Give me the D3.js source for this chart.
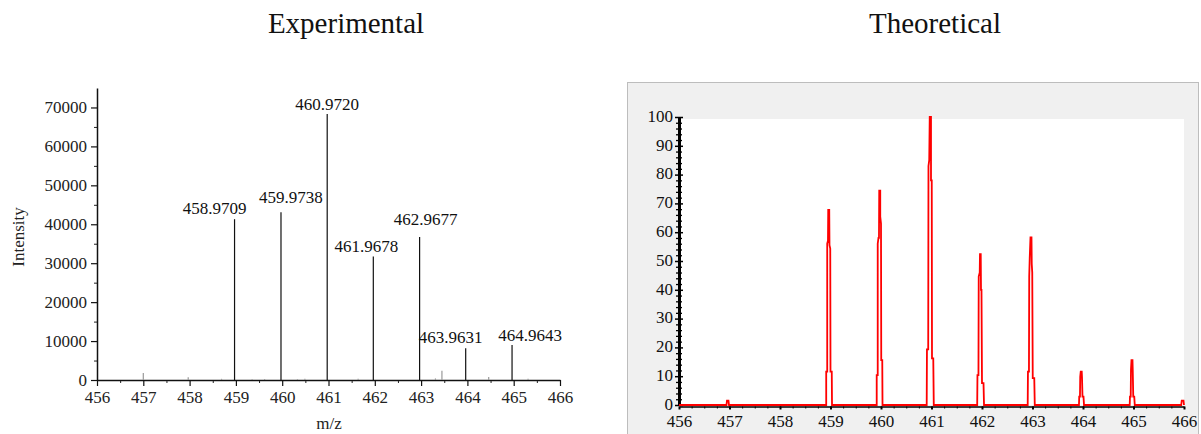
<!DOCTYPE html>
<html>
<head>
<meta charset="utf-8">
<script src="https://cdn.jsdelivr.net/npm/d3@7"></script>
<style>
	body { margin: 0; background: #fff; }
	svg { display: block; }
</style>
</head>
<body>
<svg id="chart" width="1201" height="434"></svg>
<script>
// Experimental spectrum: labelled peaks
const peakMz = [458.9709, 459.9738, 460.9720, 461.9678, 462.9677, 463.9631, 464.9643];
const peakIntensity = [41300, 43100, 68300, 31700, 36700, 8150, 9000];
// Experimental spectrum: small unlabelled sticks
const minorMz = [457.00, 457.97, 458.69, 459.35, 459.62, 460.33, 460.49, 461.64, 463.31, 463.45, 464.46, 465.31];
const minorIntensity = [1800, 700, 300, 200, 250, 200, 300, 300, 400, 2400, 800, 300];
// label placement (px) relative to stick top
const labelDx = [-20, 10, 0, -7, 6, -15, 18];
const labelGap = [5, 9, 4, 5, 12, 5, 4];

const mzTicks = [456, 457, 458, 459, 460, 461, 462, 463, 464, 465, 466];
const expIntensityTicks = [0, 10000, 20000, 30000, 40000, 50000, 60000, 70000];
const theoTicks = [0, 10, 20, 30, 40, 50, 60, 70, 80, 90, 100];

// Theoretical isotope profile, [m/z, relative abundance]
const theo457 = [[456.94, 0], [456.95, 1.5], [456.98, 1.5], [456.99, 0]];
const theo459 = [[458.915, 0], [458.915, 11.6], [458.935, 11.6], [458.935, 56], [458.950, 57], [458.955, 67.7], [458.975, 67.7], [458.980, 55.5], [458.995, 54.3], [459.000, 11.6], [459.025, 11.6], [459.030, 0]];
const theo460 = [[459.915, 0], [459.915, 10.4], [459.935, 10.4], [459.935, 56], [459.950, 58], [459.960, 58], [459.965, 74.4], [459.985, 74.4], [459.985, 65.4], [460.000, 63], [460.005, 15.6], [460.025, 15.6], [460.030, 0]];
const theo461 = [[460.905, 0], [460.910, 19.3], [460.935, 19.3], [460.940, 83], [460.955, 85], [460.965, 100], [460.990, 100], [460.990, 78], [461.005, 78], [461.010, 16.2], [461.035, 16.2], [461.045, 0]];
const theo462 = [[461.905, 0], [461.910, 10.4], [461.930, 10.4], [461.935, 44.6], [461.955, 46], [461.960, 52.4], [461.975, 52.4], [461.980, 40], [461.990, 40], [462.000, 7.6], [462.030, 7.6], [462.040, 0]];
const theo463 = [[462.905, 0], [462.910, 11.6], [462.930, 11.6], [462.935, 44.6], [462.945, 51], [462.960, 58.2], [462.980, 58.2], [462.985, 49], [462.995, 46], [463.005, 9.3], [463.035, 9.3], [463.045, 0]];
const theo464 = [[463.920, 0], [463.925, 2.9], [463.940, 2.9], [463.945, 9.8], [463.955, 11.6], [463.975, 11.6], [463.980, 9.8], [463.990, 2.9], [464.010, 2.9], [464.020, 0]];
const theo465 = [[464.925, 0], [464.930, 2.9], [464.945, 2.9], [464.950, 12.2], [464.960, 15.6], [464.980, 15.6], [464.985, 12.2], [464.995, 2.9], [465.015, 2.9], [465.025, 0]];
const theo466 = [[465.945, 0], [465.955, 1.5], [465.990, 1.5], [466.000, 0]];

const FONT = "'Liberation Serif', 'Times New Roman', serif";
const svg = d3.select('#chart').attr('font-family', FONT);

// d3 axes put sans-serif 10px on their group; swap in the serif face
function styleAxis(g, size, color) {
	g.attr('font-family', FONT).attr('font-size', size);
	g.selectAll('text').attr('font-family', FONT).attr('font-size', size).attr('fill', color);
}

// ---------- Experimental ----------
const xL = d3.scaleLinear().domain([456, 466]).range([97, 560]);
const yL = d3.scaleLinear().domain([0, 75000]).range([380, 88]);

svg.append('text').attr('x', 346).attr('y', 33).attr('text-anchor', 'middle')
	.attr('font-size', 29).attr('fill', '#111').text('Experimental');

// minor ticks first so majors sit on top
svg.append('g').attr('transform', 'translate(97,0)')
	.call(d3.axisLeft(yL).tickValues(d3.range(5000, 75000, 10000)).tickSize(3).tickFormat(''))
	.call((g) => g.select('.domain').remove())
	.selectAll('line').attr('stroke', '#222');
svg.append('g').attr('transform', 'translate(0,380)')
	.call(d3.axisBottom(xL).tickValues(d3.range(456.5, 466, 1)).tickSize(3).tickFormat(''))
	.call((g) => g.select('.domain').remove())
	.selectAll('line').attr('stroke', '#222');

let yAxisL = svg.append('g').attr('transform', 'translate(97,0)')
	.call(d3.axisLeft(yL).tickValues(expIntensityTicks).tickSize(6).tickSizeOuter(0).tickPadding(4).tickFormat(d3.format('d')));
yAxisL.select('.domain').attr('stroke', '#111').attr('stroke-width', 1.5);
yAxisL.selectAll('line').attr('stroke', '#111').attr('stroke-width', 1.2);
styleAxis(yAxisL, 17, '#222');

let xAxisL = svg.append('g').attr('transform', 'translate(0,380)')
	.call(d3.axisBottom(xL).tickValues(mzTicks).tickSize(6).tickSizeOuter(0).tickPadding(5).tickFormat(d3.format('d')));
xAxisL.select('.domain').attr('stroke', '#111').attr('stroke-width', 1.5);
xAxisL.selectAll('line').attr('stroke', '#111').attr('stroke-width', 1.2);
styleAxis(xAxisL, 17, '#222');

svg.append('text').attr('transform', 'translate(24,237) rotate(-90)').attr('text-anchor', 'middle')
	.attr('font-size', 17).attr('fill', '#222').text('Intensity');
svg.append('text').attr('x', 329).attr('y', 429).attr('text-anchor', 'middle')
	.attr('font-size', 17).attr('fill', '#222').text('m/z');

svg.append('g').selectAll('line').data(minorMz).enter().append('line')
	.attr('x1', (d) => xL(d)).attr('x2', (d) => xL(d))
	.attr('y1', yL(0)).attr('y2', (d, i) => yL(minorIntensity[i]))
	.attr('stroke', '#999').attr('stroke-width', 1.2);

svg.append('g').selectAll('line').data(peakMz).enter().append('line')
	.attr('x1', (d) => xL(d)).attr('x2', (d) => xL(d))
	.attr('y1', yL(0)).attr('y2', (d, i) => yL(peakIntensity[i]))
	.attr('stroke', '#111').attr('stroke-width', 1.2);

svg.append('g').selectAll('text').data(peakMz).enter().append('text')
	.attr('x', (d, i) => xL(d) + labelDx[i])
	.attr('y', (d, i) => yL(peakIntensity[i]) - labelGap[i])
	.attr('text-anchor', 'middle').attr('font-size', 17).attr('fill', '#111')
	.text((d) => d3.format('.4f')(d));

// ---------- Theoretical ----------
const xR = d3.scaleLinear().domain([456, 466]).range([679, 1184]);
const yR = d3.scaleLinear().domain([0, 100]).range([405, 117]);

svg.append('text').attr('x', 935).attr('y', 33).attr('text-anchor', 'middle')
	.attr('font-size', 29).attr('fill', '#111').text('Theoretical');

svg.append('rect').attr('x', 627.5).attr('y', 82.5).attr('width', 571).attr('height', 360)
	.attr('fill', '#f0f0f0').attr('stroke', '#bdbdbd');
svg.append('rect').attr('x', xR(456)).attr('y', 119).attr('width', xR(466) - xR(456)).attr('height', yR(0) - 119)
	.attr('fill', '#fff');

// x axis (black, just below the red baseline)
svg.append('g').attr('transform', 'translate(0,' + (yR(0) + 1.5) + ')')
	.call(d3.axisBottom(xR).tickValues(d3.range(456.25, 466, 0.25)).tickSize(2).tickFormat(''))
	.call((g) => g.select('.domain').remove())
	.selectAll('line').attr('stroke', '#000');
let xAxisR = svg.append('g').attr('transform', 'translate(0,' + (yR(0) + 1.5) + ')')
	.call(d3.axisBottom(xR).tickValues(mzTicks).tickSize(3).tickSizeOuter(0).tickPadding(5).tickFormat(d3.format('d')));
xAxisR.select('.domain').attr('stroke', '#000').attr('stroke-width', 1.5);
xAxisR.selectAll('line').attr('stroke', '#000').attr('stroke-width', 2);
styleAxis(xAxisR, 17, '#111');

// y axis with ticks crossing the line
svg.append('g').attr('transform', 'translate(' + xR(456) + ',0)')
	.call(d3.axisLeft(yR).tickValues(d3.range(2, 100, 2).filter((v) => v % 10 !== 0)).tickSize(3).tickFormat(''))
	.call((g) => g.select('.domain').remove())
	.selectAll('line').attr('x2', 3).attr('x1', -3).attr('stroke', '#000').attr('stroke-width', 1.3);
let yAxisR = svg.append('g').attr('transform', 'translate(' + xR(456) + ',0)')
	.call(d3.axisLeft(yR).tickValues(theoTicks).tickSize(4).tickSizeOuter(0).tickPadding(2).tickFormat(d3.format('d')));
yAxisR.select('.domain').attr('stroke', '#000').attr('stroke-width', 3);
yAxisR.selectAll('line').attr('x1', -4).attr('x2', 4).attr('stroke', '#000').attr('stroke-width', 1.5);
styleAxis(yAxisR, 17, '#111');
yAxisR.selectAll('text').attr('dy', '0.25em');

// red isotope profile
const profile = [[456, 0]].concat(theo457, theo459, theo460, theo461, theo462, theo463, theo464, theo465, theo466);
const lineR = d3.line().x((d) => xR(d[0])).y((d) => yR(d[1]));
svg.append('path').datum(profile).attr('d', lineR)
	.attr('fill', 'none').attr('stroke', '#ff0000').attr('stroke-width', 1.8).attr('stroke-linejoin', 'miter');
</script>
</body>
</html>
